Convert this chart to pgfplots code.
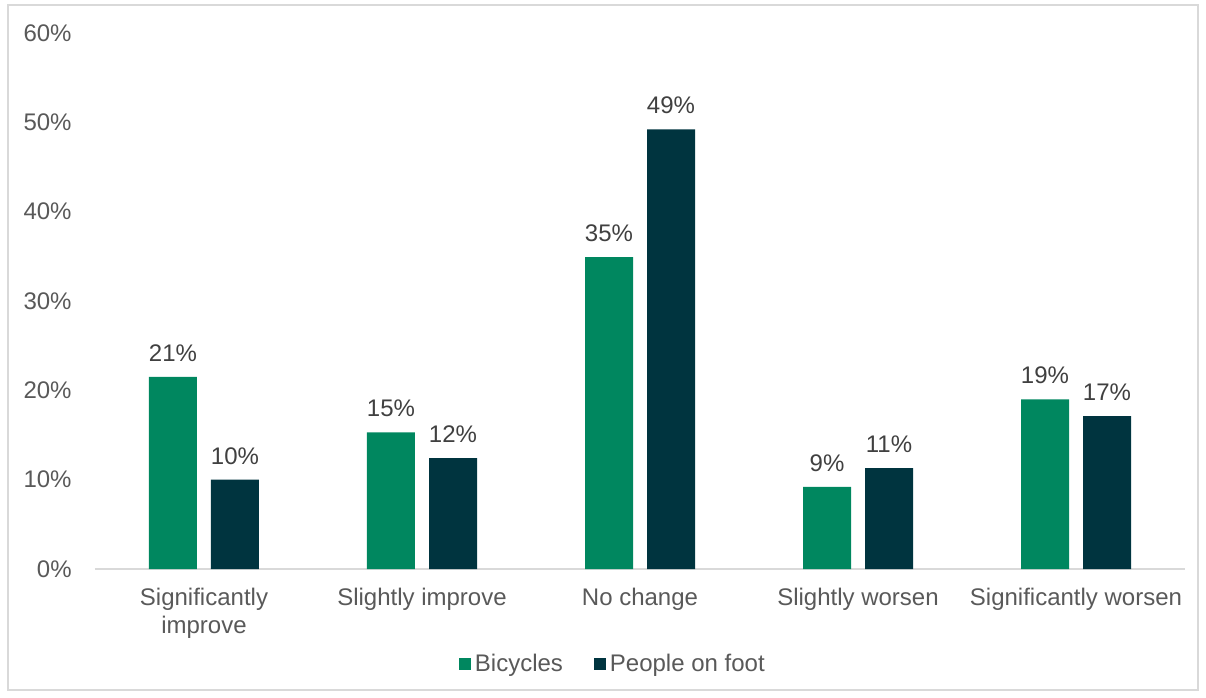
\documentclass[border=0pt]{standalone}
\usepackage{pgfplots}
\pgfplotsset{compat=1.18}
\usepackage{fontspec}
\setmainfont{Liberation Sans}
\definecolor{bike}{HTML}{00875F}
\definecolor{foot}{HTML}{00343F}
\definecolor{txt}{HTML}{595959}
\definecolor{lbl}{HTML}{404040}
\definecolor{framec}{HTML}{D9D9D9}
\begin{document}
\begin{tikzpicture}
\useasboundingbox (-47.5pt,-64pt) rectangle (555.5pt,284.5pt);
\draw[framec, line width=0.75pt] (-43.5pt,-60.5pt) rectangle (551.5pt,282pt);
\begin{axis}[
  at={(0pt,0pt)}, anchor=south west,
  scale only axis, width=545pt, height=268pt,
  ybar, bar width=24pt,
  xmin=-0.5, xmax=4.5, ymin=0, ymax=60,
  axis lines*=left,
  y axis line style={draw=none},
  x axis line style={draw=framec, line width=1pt},
  major tick length=0pt,
  xtick={0,1,2,3,4},
  xticklabels={{Significantly\\improve},{Slightly improve},{No change},{Slightly worsen},{Significantly worsen}},
  ytick={0,10,20,30,40,50,60},
  yticklabel={\pgfmathprintnumber{\tick}\%},
  /pgf/number format/assume math mode=true,
  xticklabel style={align=center, inner sep=0pt, yshift=-9.5pt, font=\fontsize{12}{14}\selectfont, text=txt},
  yticklabel style={inner sep=0pt, xshift=-11.5pt, font=\fontsize{12}{14}\selectfont, text=txt},
  point meta=explicit symbolic,
  nodes near coords,
  every node near coord/.append style={font=\fontsize{12}{14}\selectfont, text=lbl, inner sep=0pt, yshift=7.5pt},
  legend style={at={(0.476,-0.177)}, anchor=center, draw=none, legend columns=2,
    font=\fontsize{12}{14}\selectfont, text=txt,
    /tikz/every even column/.append style={column sep=13.5pt}},
  clip=false,
]
\addplot[fill=bike, draw=none, bar shift=-15.5pt,
  legend image code/.code={\fill[bike] (0pt,-3pt) rectangle (6pt,3pt);}]
  coordinates {(0,21.5) [21\%] (1,15.3) [15\%] (2,34.9) [35\%] (3,9.2) [9\%] (4,19.0) [19\%]};
\addplot[fill=foot, draw=none, bar shift=15.5pt,
  legend image code/.code={\fill[foot] (0pt,-3pt) rectangle (6pt,3pt);}]
  coordinates {(0,10.0) [10\%] (1,12.4) [12\%] (2,49.2) [49\%] (3,11.3) [11\%] (4,17.1) [17\%]};
\legend{Bicycles, People on foot}
\end{axis}
\end{tikzpicture}
\end{document}
